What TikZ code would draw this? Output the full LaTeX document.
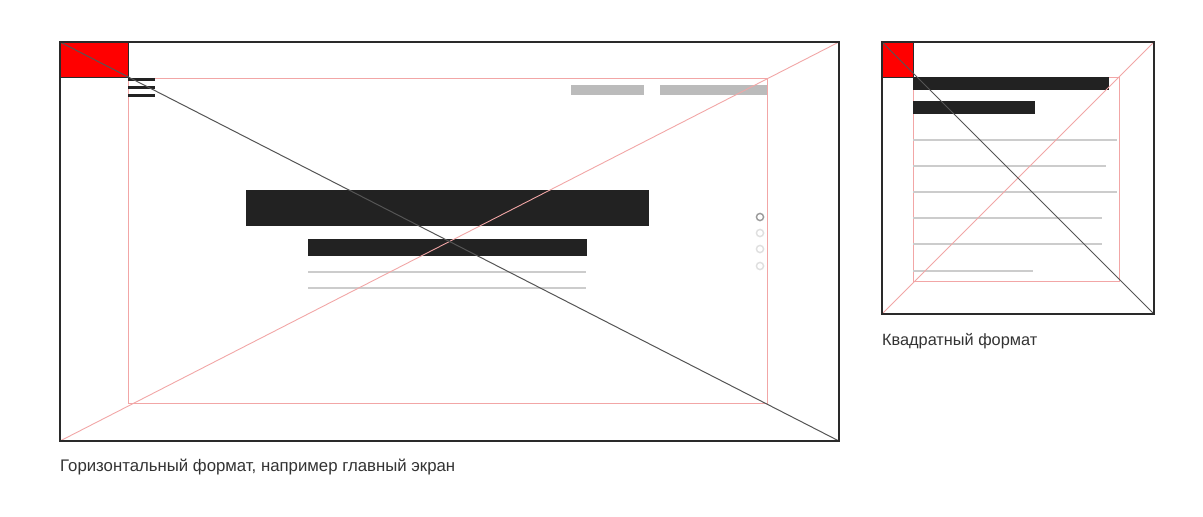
\documentclass[tikz,border=0pt]{standalone}
\usepackage{fontspec}
\setmainfont{Liberation Sans}
\definecolor{bar}{HTML}{222222}
\definecolor{navgray}{HTML}{BBBBBB}
\definecolor{linegray}{HTML}{CCCCCC}
\definecolor{guide}{HTML}{F2A6A6}
\definecolor{frame}{HTML}{2A2A2A}
\definecolor{diag}{HTML}{555555}
\definecolor{txt}{HTML}{333333}
\tikzset{
  guideline/.style={draw=guide, line width=0.9pt},
  darkbar/.style={fill=bar},
  navbar/.style={fill=navgray},
  textline/.style={draw=linegray, line width=1.3pt},
  frameline/.style={draw=frame, line width=1.4pt},
  corner/.style={fill=red, draw=frame, line width=0.9pt},
  diagline/.style={draw=diag, line width=1pt},
  caption/.style={anchor=base west, inner sep=0pt, text=txt},
}
\begin{document}
\begin{tikzpicture}[x=1pt,y=-1pt]
\useasboundingbox (0,0) rectangle (1203,517);
\fill[white] (0,0) rectangle (1203,517);
% ---------- horizontal format ----------
\coordinate (HTL) at (60,42);
\coordinate (HBR) at (839,441);
\coordinate (HTR) at (839,42);
\coordinate (HBL) at (60,441);
\draw[guideline] (128.5,78.5) rectangle (767.5,403.5);
% content
\fill[darkbar] (246,190) rectangle (649,226);
\fill[darkbar] (308,239) rectangle (587,256);
\draw[textline] (308,272) -- (586,272);
\draw[textline] (308,288) -- (586,288);
\fill[navbar] (571,85) rectangle (644,95);
\fill[navbar] (660,85) rectangle (767,95);
\foreach \y in {79,87,95} \draw[bar, line width=3pt] (128,\y) -- (155,\y);
\draw[draw=gray!80, line width=1.4pt] (760,217) circle (3.6);
\foreach \y in {233,249,266} \draw[draw=gray!25, line width=1.4pt] (760,\y) circle (3.6);
% guides
\draw[guideline] (HBL) -- (HTR);
\fill[corner] (HTL) rectangle (128,77);
\draw[diagline] (HTL) -- (HBR);
\draw[frameline] (HTL) rectangle (HBR);
\node[caption] (hcap) at (60,471) {\resizebox{395pt}{!}{Горизонтальный формат, например главный экран}};
% ---------- square format ----------
\coordinate (STL) at (882,42);
\coordinate (SBR) at (1154,314);
\coordinate (STR) at (1154,42);
\coordinate (SBL) at (882,314);
\draw[guideline] (913.5,77.5) rectangle (1119.5,281.5);
\fill[darkbar] (913,77) rectangle (1109,90);
\fill[darkbar] (913,101) rectangle (1035,114);
\draw[textline] (913,140) -- (1117,140);
\draw[textline] (913,166) -- (1106,166);
\draw[textline] (913,192) -- (1117,192);
\draw[textline] (913,218) -- (1102,218);
\draw[textline] (913,244) -- (1102,244);
\draw[textline] (913,271) -- (1033,271);
\draw[guideline] (SBL) -- (STR);
\fill[corner] (STL) rectangle (913,77);
\draw[diagline] (STL) -- (SBR);
\draw[frameline] (STL) rectangle (SBR);
\node[caption] (scap) at (882,345) {\resizebox{155pt}{!}{Квадратный формат}};
\end{tikzpicture}
\end{document}
